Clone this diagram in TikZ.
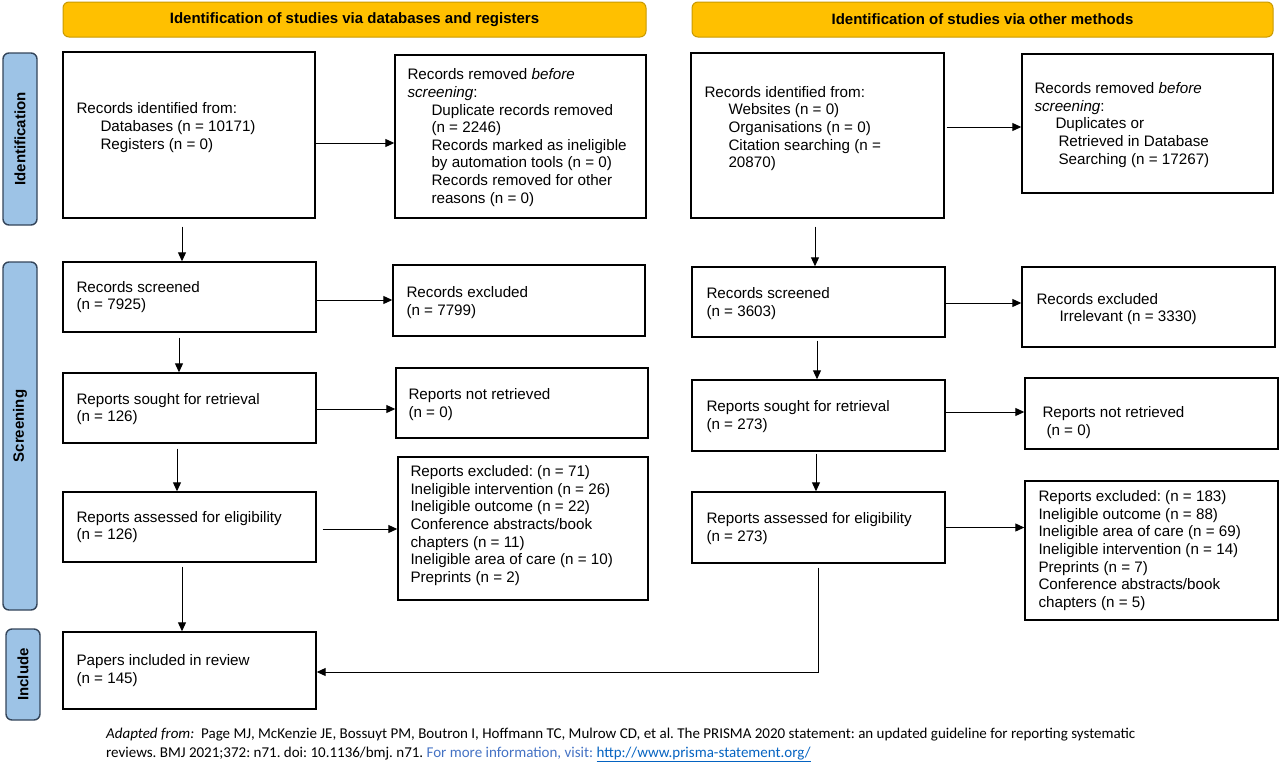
\documentclass[tikz,border=0pt]{standalone}
\usepackage{fontspec}
\setmainfont{Liberation Sans}
\newfontfamily\footfont{Carlito}
\usetikzlibrary{arrows.meta,fit}
\definecolor{hdrfill}{HTML}{FFC000}
\definecolor{hdrline}{HTML}{C99A00}
\definecolor{sidefill}{HTML}{9DC3E6}
\definecolor{sideline}{HTML}{34455A}
\definecolor{noteblue}{HTML}{4472C4}
\definecolor{linkblue}{HTML}{0563C1}
\newcommand{\ind}{\hspace*{24pt}}
\frenchspacing
\begin{document}
\begin{tikzpicture}[x=1pt,y=-1pt,
  box/.style={draw=black, line width=1.4pt, fill=white, inner sep=0pt},
  txt/.style={anchor=west, align=left, inner sep=0pt, font=\fontsize{15.2}{17.6}\selectfont},
  hdr/.style={draw=hdrline, fill=hdrfill, rounded corners=6pt, line width=1pt, inner sep=0pt},
  hdrtxt/.style={inner sep=0pt, font=\bfseries\fontsize{15}{17}\selectfont},
  side/.style={draw=sideline, fill=sidefill, rounded corners=6pt, line width=1.4pt, inner sep=0pt},
  sidetxt/.style={rotate=90, font=\bfseries\fontsize{15}{17}\selectfont, inner sep=0pt},
  arr/.style={line width=1pt, -{Triangle[length=9pt,width=8pt]}},
  foot/.style={inner sep=0pt, font=\footfont\fontsize{15}{18}\selectfont},
]
\useasboundingbox (0,0) rectangle (1280,761);

% headers
\node[hdr, fit={(63,2) (646,37)}] (H1) {};
\node[hdrtxt] (H1t) at (H1.center) {Identification of studies via databases and registers};
\node[hdr, fit={(692,2) (1273,37)}] (H2) {};
\node[hdrtxt] (H2t) at (H2.center) {Identification of studies via other methods};

% side labels
\node[side, fit={(3,53) (37,225)}] (S1) {};
\node[sidetxt] (S1t) at (S1.center) {Identification};
\node[side, fit={(3,262) (37,610)}] (S2) {};
\node[sidetxt] (S2t) at ([yshift=10pt]S2.center) {Screening};
\node[side, fit={(6,629) (40,720)}] (S3) {};
\node[sidetxt] (S3t) at (S3.center) {Include};

% left column boxes
\node[box, fit={(63,52) (315,218)}] (B1) {};
\node[txt] (B1t) at ([xshift=14pt,yshift=7.5pt]B1.west) {Records identified from:\\\ind Databases (n = 10171)\\\ind Registers (n = 0)};
\node[box, fit={(395,55) (646,218)}] (B2) {};
\node[txt] (B2t) at ([xshift=13pt,yshift=-1pt]B2.west) {Records removed \textit{before}\\\textit{screening}:\\\ind Duplicate records removed\\\ind (n = 2246)\\\ind Records marked as ineligible\\\ind by automation tools (n = 0)\\\ind Records removed for other\\\ind reasons (n = 0)};
\node[box, fit={(63,262) (316,332)}] (B3) {};
\node[txt] (B3t) at ([xshift=14pt]B3.west) {Records screened\\(n = 7925)};
\node[box, fit={(393,265) (645,336)}] (B4) {};
\node[txt] (B4t) at ([xshift=14pt,yshift=-2pt]B4.west) {Records excluded\\(n = 7799)};
\node[box, fit={(63,373) (316,443)}] (B5) {};
\node[txt] (B5t) at ([xshift=14pt,yshift=-1pt]B5.west) {Reports sought for retrieval\\(n = 126)};
\node[box, fit={(396,368) (648,438)}] (B6) {};
\node[txt] (B6t) at ([xshift=13pt,yshift=-1.5pt]B6.west) {Reports not retrieved\\(n = 0)};
\node[box, fit={(63,492) (316,562)}] (B7) {};
\node[txt] (B7t) at ([xshift=14pt]B7.west) {Reports assessed for eligibility\\(n = 126)};
\node[box, fit={(398,457) (648,600)}] (B8) {};
\node[txt] (B8t) at ([xshift=13pt,yshift=3pt]B8.west) {Reports excluded: (n = 71)\\Ineligible intervention (n = 26)\\Ineligible outcome (n = 22)\\Conference abstracts/book\\chapters (n = 11)\\Ineligible area of care (n = 10)\\Preprints (n = 2)};
\node[box, fit={(63,632) (316,709)}] (B9) {};
\node[txt] (B9t) at ([xshift=14pt]B9.west) {Papers included in review\\(n = 145)};

% right column boxes
\node[box, fit={(691,53) (944,218)}] (C1) {};
\node[txt] (C1t) at ([xshift=14pt,yshift=7pt]C1.west) {Records identified from:\\\ind Websites (n = 0)\\\ind Organisations (n = 0)\\\ind Citation searching (n =\\\ind 20870)};
\node[box, fit={(1022,54) (1273,193)}] (C2) {};
\node[txt] (C2t) at ([xshift=13pt,yshift=-1.5pt]C2.west) {Records removed \textit{before}\\\textit{screening}:\\\hspace*{21pt}Duplicates or\\\hspace*{24pt}Retrieved in Database\\\hspace*{24pt}Searching (n = 17267)};
\node[box, fit={(692,267) (945,337)}] (C3) {};
\node[txt] (C3t) at ([xshift=15pt,yshift=-1.5pt]C3.west) {Records screened\\(n = 3603)};
\node[box, fit={(1022,267) (1275,347)}] (C4) {};
\node[txt] (C4t) at ([xshift=15pt,yshift=-2pt]C4.west) {Records excluded\\\hspace*{23pt}Irrelevant (n = 3330)};
\node[box, fit={(692,380) (945,451)}] (C5) {};
\node[txt] (C5t) at ([xshift=15pt,yshift=-1pt]C5.west) {Reports sought for retrieval\\(n = 273)};
\node[box, fit={(1025,378) (1278,449)}] (C6) {};
\node[txt] (C6t) at ([xshift=18pt,yshift=-9pt]C6.west) {Reports not retrieved\\\hspace*{4pt}(n = 0)};
\node[box, fit={(692,492) (945,563)}] (C7) {};
\node[txt] (C7t) at ([xshift=15pt,yshift=-1pt]C7.west) {Reports assessed for eligibility\\(n = 273)};
\node[box, fit={(1025,481) (1278,620)}] (C8) {};
\node[txt] (C8t) at ([xshift=14pt]C8.west) {Reports excluded: (n = 183)\\Ineligible outcome (n = 88)\\Ineligible area of care (n = 69)\\Ineligible intervention (n = 14)\\Preprints (n = 7)\\Conference abstracts/book\\chapters (n = 5)};

% connectors left
\draw[arr] ([yshift=-8pt]B1.east) -- ([yshift=-8pt]B1.east -| B2.west);
\draw[arr, shorten <=8pt] ([xshift=-7pt]B1.south) -- ([xshift=-7pt]B1.south |- B3.north);
\draw[arr] ([yshift=-3pt]B3.east) -- ([yshift=-3pt]B3.east -| B4.west);
\draw[arr, shorten <=5pt] ([xshift=-10.5pt]B3.south) -- ([xshift=-10.5pt]B3.south |- B5.north);
\draw[arr] ([yshift=-1pt]B5.east) -- ([yshift=-1pt]B5.east -| B6.west);
\draw[arr, shorten <=5pt] ([xshift=-12.5pt]B5.south) -- ([xshift=-12.5pt]B5.south |- B7.north);
\draw[arr, shorten <=6pt] ([yshift=-2pt]B7.east) -- ([yshift=-2pt]B7.east -| B8.west);
\draw[arr, shorten <=4pt] ([xshift=-7.5pt]B7.south) -- ([xshift=-7.5pt]B7.south |- B9.north);

% connectors right
\draw[arr, shorten <=2pt] ([yshift=8.5pt]C1.east) -- ([yshift=8.5pt]C1.east -| C2.west);
\draw[arr, shorten <=8pt] ([xshift=-2.5pt]C1.south) -- ([xshift=-2.5pt]C1.south |- C3.north);
\draw[arr] ([yshift=-1pt]C3.east) -- ([yshift=-1pt]C3.east -| C4.west);
\draw[arr, shorten <=3pt] ([xshift=-1.5pt]C3.south) -- ([xshift=-1.5pt]C3.south |- C5.north);
\draw[arr] ([yshift=3.5pt]C5.east) -- ([yshift=3.5pt]C5.east -| C6.west);
\draw[arr, shorten <=2pt] ([xshift=-2.5pt]C5.south) -- ([xshift=-2.5pt]C5.south |- C7.north);
\draw[arr] (C7.east) -- (C7.east -| C8.west);
\draw[arr, shorten <=4pt] ([xshift=-0.5pt]C7.south) |- ([yshift=-1.5pt]B9.east);

% footer
\node[foot, anchor=base west] (F1) at (106,738) {\textit{Adapted from:}\ \ Page MJ, McKenzie JE, Bossuyt PM, Boutron I, Hoffmann TC, Mulrow CD, et al. The PRISMA 2020 statement: an updated guideline for reporting systematic};
\node[foot, anchor=base west] (F2) at (106,757) {reviews. BMJ 2021;372: n71. doi: 10.1136/bmj. n71. {\color{noteblue}For more information, visit:} {\color{linkblue}\underline{http://www.prisma-statement.org/}}};
\end{tikzpicture}
\end{document}
